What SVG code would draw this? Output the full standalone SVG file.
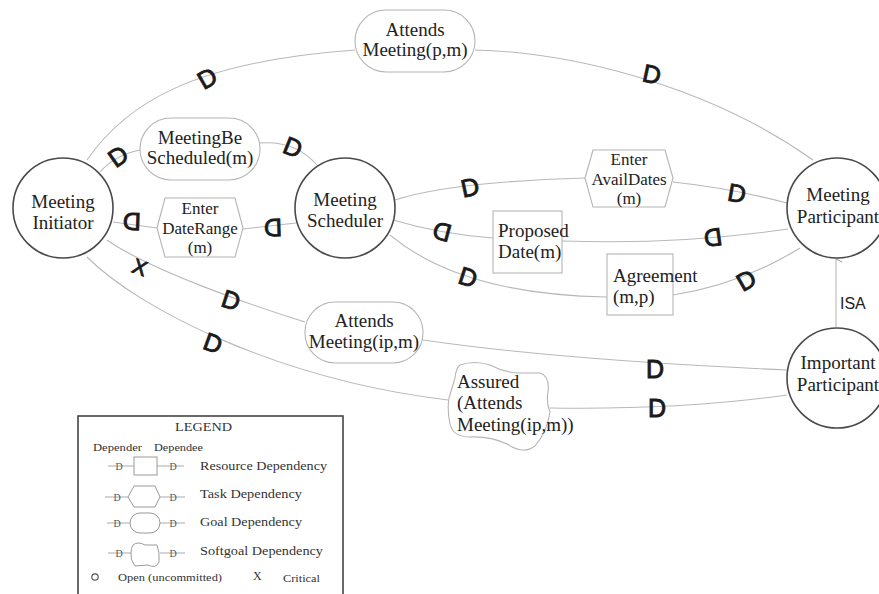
<svg xmlns="http://www.w3.org/2000/svg" width="879" height="594" viewBox="0 0 879 594">
<defs>
<style>
.bg{fill:#fff}
.actor{fill:#fff;stroke:#4a4a4a;stroke-width:1.6}
.dum{fill:#fff;stroke:#b4b4b4;stroke-width:1.1}
.lnk{fill:none;stroke:#b8b8b8;stroke-width:1.1}
.t{font-family:"Liberation Serif","Times New Roman",serif;font-size:19px;fill:#222}
.h{font-size:17px}
.c{text-anchor:middle}
.d{font-family:"Liberation Sans",Arial,sans-serif;font-size:25px;fill:#1a1a1a;stroke:#1a1a1a;stroke-width:0.9;text-anchor:middle;dominant-baseline:central}
.isa{font-family:"Liberation Sans",Arial,sans-serif;font-size:16px;fill:#222}
.lg{font-family:"Liberation Serif","Times New Roman",serif;font-size:13px;fill:#333}
.ls{font-family:"Liberation Serif","Times New Roman",serif;font-size:10px;fill:#555;text-anchor:middle;dominant-baseline:central}
.lbox{fill:#fff;stroke:#444;stroke-width:1.6}
.lsh{fill:#fff;stroke:#999;stroke-width:1}
.lst{stroke:#aaa;stroke-width:1}
</style>
<marker id="isaArrow" markerWidth="8" markerHeight="8" refX="4" refY="1" orient="auto-start-reverse" markerUnits="userSpaceOnUse">
<path d="M1,7 L4,1 L7,7" fill="none" stroke="#999" stroke-width="1"/>
</marker>
</defs>
<rect class="bg" x="0" y="0" width="879" height="594"/>

<g id="connectors">
<path class="lnk" d="M87,160 C125,105 190,62 355,50"/>
<path class="lnk" d="M475,50 C560,52 700,80 813,160"/>
<path class="lnk" d="M100,172 Q115,155 140,150"/>
<path class="lnk" d="M260,143 Q295,140 317,165"/>
<path class="lnk" d="M113,222 L157,228"/>
<path class="lnk" d="M243,229 L296,223"/>
<path class="lnk" d="M395,200 Q450,182 585,178"/>
<path class="lnk" d="M673,182 Q730,188 787,203"/>
<path class="lnk" d="M393,220 Q440,234 493,238"/>
<path class="lnk" d="M562,241 Q680,245 788,229"/>
<path class="lnk" d="M390,235 C420,260 480,295 607,297"/>
<path class="lnk" d="M673,295 Q740,285 800,248"/>
<path class="lnk" d="M107,240 C150,270 250,305 305,322"/>
<path class="lnk" d="M423,340 Q560,360 787,370"/>
<path class="lnk" d="M87,257 C140,310 280,380 448,400"/>
<path class="lnk" d="M550,408 Q680,410 787,395"/>
<path class="lnk" d="M836,327 L836,259" marker-end="url(#isaArrow)"/>
<text class="isa" x="840" y="309">ISA</text>
<text class="d" transform="translate(207,78) rotate(-30)">D</text>
<text class="d" transform="translate(652,74) rotate(12)">D</text>
<text class="d" transform="translate(118,156) rotate(-35)">D</text>
<text class="d" transform="translate(293,147) rotate(22)">D</text>
<text class="d" transform="translate(132,222) rotate(182)">D</text>
<text class="d" transform="translate(273,228) rotate(178)">D</text>
<text class="d" transform="translate(470,187) rotate(-12)">D</text>
<text class="d" transform="translate(737,193) rotate(10)">D</text>
<text class="d" transform="translate(442,232) rotate(195)">D</text>
<text class="d" transform="translate(713,238) rotate(172)">D</text>
<text class="d" transform="translate(468,277) rotate(18)">D</text>
<text class="d" transform="translate(746,280) rotate(-30)">D</text>
<text class="d" transform="translate(140,267) rotate(20)" style="font-size:21px">X</text>
<text class="d" transform="translate(231,300) rotate(18)">D</text>
<text class="d" transform="translate(655,369)">D</text>
<text class="d" transform="translate(213,343) rotate(20)">D</text>
<text class="d" transform="translate(657,408)">D</text>
</g>

<g id="meeting-initiator">
<circle class="actor" cx="63" cy="208" r="50"/>
<text class="t c" x="63" y="208">Meeting</text>
<text class="t c" x="63" y="229">Initiator</text>
</g>
<g id="meeting-scheduler">
<circle class="actor" cx="345" cy="208" r="50"/>
<text class="t c" x="345" y="206">Meeting</text>
<text class="t c" x="345" y="227">Scheduler</text>
</g>
<g id="meeting-participant">
<circle class="actor" cx="837" cy="208" r="50"/>
<text class="t c" x="838" y="201">Meeting</text>
<text class="t c" x="838" y="223">Participant</text>
</g>
<g id="important-participant">
<circle class="actor" cx="837" cy="378" r="50"/>
<text class="t c" x="838" y="369">Important</text>
<text class="t c" x="838" y="391">Participant</text>
</g>

<g id="attends-meeting-pm">
<rect class="dum" x="355" y="10" width="120" height="62" rx="31"/>
<text class="t c" x="415" y="36">Attends</text>
<text class="t c" x="415" y="56">Meeting(p,m)</text>
</g>
<g id="meeting-be-scheduled">
<rect class="dum" x="140" y="118" width="120" height="62" rx="31"/>
<text class="t c" x="200" y="144">MeetingBe</text>
<text class="t c" x="200" y="164">Scheduled(m)</text>
</g>
<g id="enter-daterange">
<polygon class="dum" points="157,228 165,198 235,198 243,228 235,257 165,257"/>
<text class="t h c" x="200" y="214">Enter</text>
<text class="t h c" x="200" y="234">DateRange</text>
<text class="t h c" x="200" y="253">(m)</text>
</g>
<g id="enter-availdates">
<polygon class="dum" points="585,178 593,150 665,150 673,178 665,207 593,207"/>
<text class="t h c" x="629" y="165">Enter</text>
<text class="t h c" x="629" y="185">AvailDates</text>
<text class="t h c" x="629" y="204">(m)</text>
</g>
<g id="proposed-date">
<rect class="dum" x="493" y="211" width="69" height="62"/>
<text class="t" x="498" y="237">Proposed</text>
<text class="t" x="498" y="258">Date(m)</text>
</g>
<g id="agreement">
<rect class="dum" x="607" y="254" width="66" height="61"/>
<text class="t" x="613" y="282">Agreement</text>
<text class="t" x="613" y="303">(m,p)</text>
</g>
<g id="attends-meeting-ipm">
<rect class="dum" x="305" y="302" width="118" height="61" rx="30"/>
<text class="t c" x="364" y="327">Attends</text>
<text class="t c" x="364" y="348">Meeting(ip,m)</text>
</g>
<g id="assured-attends">
<path class="dum" d="M460,365 Q475,360 490,365 Q505,373 520,373 L540,373 Q550,376 548,392 Q546,402 550,412 Q547,432 535,446 Q523,455 507,444 Q490,436 470,437 Q453,437 450,424 Q447,410 449,398 Q452,388 455,378 Q456,368 460,365 Z"/>
<text class="t" x="457" y="388">Assured</text>
<text class="t" x="457" y="409">(Attends</text>
<text class="t" x="457" y="431">Meeting(ip,m))</text>
</g>

<g id="legend">
<rect class="lbox" x="78" y="416" width="265" height="190"/>
<text class="lg" x="175" y="431" textLength="57" lengthAdjust="spacingAndGlyphs">LEGEND</text>
<text class="lg" x="93" y="451" textLength="49" lengthAdjust="spacingAndGlyphs" style="font-size:11px">Depender</text>
<text class="lg" x="154" y="451" textLength="49" lengthAdjust="spacingAndGlyphs" style="font-size:11px">Dependee</text>
<line class="lst" x1="108" y1="466" x2="134" y2="466"/>
<line class="lst" x1="157" y1="466" x2="184" y2="466"/>
<rect class="lsh" x="134" y="457" width="23" height="18"/>
<text class="ls" x="119" y="466">D</text>
<text class="ls" x="173" y="466">D</text>
<text class="lg" x="200" y="470" textLength="127" lengthAdjust="spacingAndGlyphs">Resource Dependency</text>
<line class="lst" x1="105" y1="497" x2="128" y2="497"/>
<line class="lst" x1="160" y1="497" x2="185" y2="497"/>
<polygon class="lsh" points="128,497 134,486 155,486 160,497 155,507 134,507"/>
<text class="ls" x="117" y="497">D</text>
<text class="ls" x="173" y="497">D</text>
<text class="lg" x="200" y="498" textLength="102" lengthAdjust="spacingAndGlyphs">Task Dependency</text>
<line class="lst" x1="107" y1="523" x2="130" y2="523"/>
<line class="lst" x1="160" y1="523" x2="185" y2="523"/>
<rect class="lsh" x="130" y="513" width="30" height="20" rx="10"/>
<text class="ls" x="117" y="523">D</text>
<text class="ls" x="173" y="523">D</text>
<text class="lg" x="200" y="526" textLength="102" lengthAdjust="spacingAndGlyphs">Goal Dependency</text>
<line class="lst" x1="108" y1="553" x2="131" y2="553"/>
<line class="lst" x1="160" y1="553" x2="185" y2="553"/>
<path class="lsh" d="M133,545 Q138,541 145,545 L157,545 Q160,553 159,562 Q156,569 148,565 L135,566 Q130,560 131,553 Q131,548 133,545 Z"/>
<text class="ls" x="119" y="553">D</text>
<text class="ls" x="173" y="553">D</text>
<text class="lg" x="200" y="555" textLength="123" lengthAdjust="spacingAndGlyphs">Softgoal Dependency</text>
<circle cx="95" cy="577" r="3.2" fill="none" stroke="#555" stroke-width="1.2"/>
<text class="lg" x="118" y="581" textLength="104" lengthAdjust="spacingAndGlyphs" style="font-size:11px">Open (uncommitted)</text>
<text class="lg" x="253" y="580" style="font-size:12px">X</text>
<text class="lg" x="283" y="582" textLength="37" lengthAdjust="spacingAndGlyphs" style="font-size:11px">Critical</text>
</g>
</svg>
